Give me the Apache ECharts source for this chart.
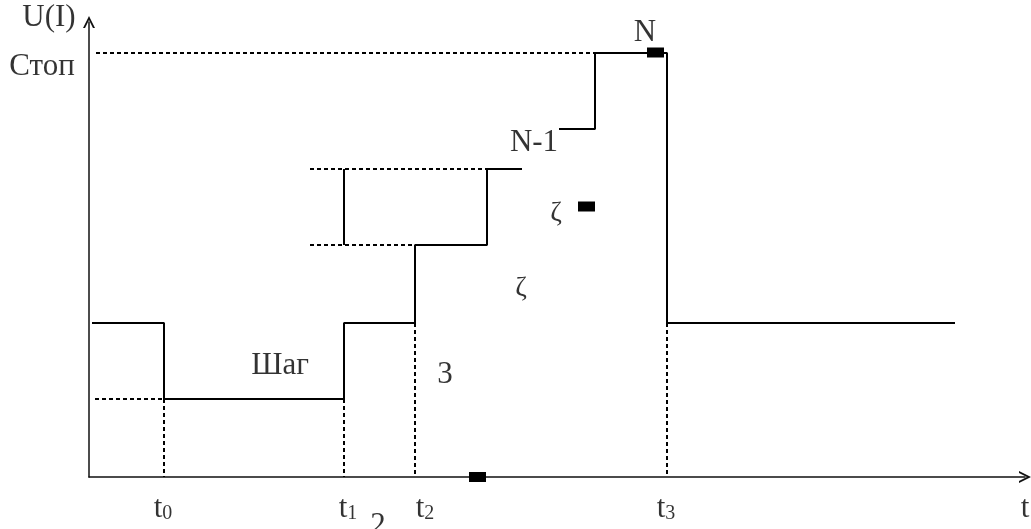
<!DOCTYPE html>
<html>
<head>
<meta charset="utf-8">
<script src="https://cdn.jsdelivr.net/npm/echarts@6/dist/echarts.min.js"></script>
<style>
html, body { margin: 0; background: #fff; }
#chart { width: 1031px; height: 529px; }
</style>
</head>
<body>
<div id="chart"></div>
<script>
// ступенчатая кривая U(I) до точки N-1
const stepPath = [[0.3, 30.8], [7.5, 30.8], [7.5, 15.6], [25.5, 15.6], [25.5, 30.8], [32.6, 30.8],
  [32.6, 46.4], [39.8, 46.4], [39.8, 61.6], [43.3, 61.6]]
// от N-1 через N (Стоп) и обратно на исходный уровень
const tailPath = [[47.0, 69.6], [50.6, 69.6], [50.6, 84.8], [57.8, 84.8], [57.8, 30.8], [86.6, 30.8]]
// размер шага
const stepMark = [[25.5, 46.4], [25.5, 61.6]]
// пунктир: горизонтальные уровни и вертикали t0..t3
const dashLines = [
  [[0.7, 84.8], [50.6, 84.8]],
  [[22.1, 61.6], [39.8, 61.6]],
  [[22.1, 46.4], [32.6, 46.4]],
  [[32.6, 30.8], [32.6, 0]],
  [[57.8, 30.8], [57.8, 0]],
  [[0.6, 15.6], [7.5, 15.6]],
  [[7.5, 15.6], [7.5, 0]],
  [[25.5, 15.6], [25.5, 0]]
]
// чёрные прямоугольники
const blocks = [[38.85, 0], [49.75, 54.1], [56.65, 84.9]]
// подписи
const texts = [
  { name: 'U(I)', value: [-4.0, 91.8] },
  { name: 'Стоп', value: [-4.7, 82.0] },
  { name: 'N', value: [55.6, 88.8] },
  { name: 'N-1', value: [44.5, 66.8] },
  { name: 'Шаг', value: [19.1, 22.2] },
  { name: '3', value: [35.6, 20.4] },
  { name: '2', value: [28.9, -9.8] },
  { name: 't{s|0}', value: [7.4, -6.4] },
  { name: 't{s|1}', value: [25.9, -6.4] },
  { name: 't{s|2}', value: [33.6, -6.4] },
  { name: 't{s|3}', value: [57.7, -6.4] },
  { name: 't', value: [93.6, -6.4] }
]
const squiggles = [[46.7, 52.6], [43.2, 37.6]]

const chart = echarts.init(document.getElementById('chart'))
const arrow = 'path://M5,0 L10,10 L8.3,10 L5,3.4 L1.7,10 L0,10 Z'
const font = 'Liberation Serif'

const series = []
function addLine(data, width, type) {
  series.push({
    type: 'line',
    data: data,
    symbol: 'none',
    silent: true,
    lineStyle: { color: '#000', width: width, type: type }
  })
}
addLine(stepPath, 2, 'solid')
addLine(tailPath, 2, 'solid')
addLine(stepMark, 2, 'solid')
dashLines.forEach(function (seg) { addLine(seg, 2, [4, 3]) })

series.push({
  type: 'scatter',
  data: blocks,
  symbol: 'rect',
  symbolSize: [17, 10],
  itemStyle: { color: '#000', opacity: 1 },
  clip: false
})
series.push({
  type: 'scatter',
  data: texts,
  symbolSize: 0,
  clip: false,
  label: {
    show: true,
    position: 'inside',
    formatter: '{b}',
    color: '#000',
    fontFamily: font,
    fontSize: 31,
    rich: {
      s: { fontFamily: font, fontSize: 20, padding: [10, 0, 0, 0] }
    }
  }
})
series.push({
  type: 'scatter',
  data: squiggles,
  symbolSize: 0,
  clip: false,
  label: {
    show: true,
    position: 'inside',
    formatter: 'ζ',
    color: '#000',
    fontFamily: font,
    fontSize: 28
  }
})

chart.setOption({
  animation: false,
  backgroundColor: '#fff',
  grid: { left: 89, right: 6, top: 22, bottom: 52 },
  xAxis: {
    type: 'value',
    min: 0,
    max: 93.6,
    axisLine: { lineStyle: { color: '#111', width: 1.5 }, symbol: ['none', arrow], symbolSize: [12, 12] },
    axisTick: { show: false },
    axisLabel: { show: false },
    splitLine: { show: false }
  },
  yAxis: {
    type: 'value',
    min: 0,
    max: 91,
    axisLine: { lineStyle: { color: '#111', width: 1.5 }, symbol: ['none', arrow], symbolSize: [12, 12] },
    axisTick: { show: false },
    axisLabel: { show: false },
    splitLine: { show: false }
  },
  series: series
})
</script>
</body>
</html>
